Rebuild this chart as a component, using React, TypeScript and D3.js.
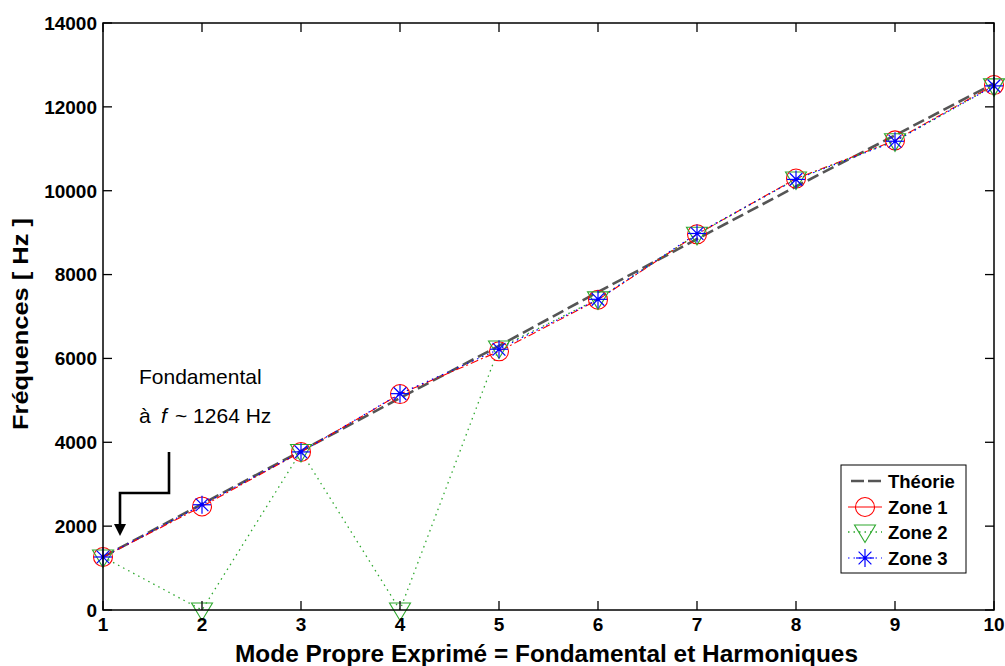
import React from "react";
import * as d3 from "d3";

const modes = [1, 2, 3, 4, 5, 6, 7, 8, 9, 10];
const theorie = [1264, 2528, 3792, 5056, 6300, 7584, 8848, 10100, 11320, 12560];
const zone1 = [1264, 2470, 3770, 5150, 6170, 7400, 8960, 10290, 11200, 12520];
const zone2 = [1264, 0, 3780, 0, 6250, 7420, 8960, 10280, 11190, 12500];
const zone3 = [1264, 2510, 3770, 5160, 6220, 7410, 8980, 10270, 11180, 12500];
const yTicks = [0, 2000, 4000, 6000, 8000, 10000, 12000, 14000];
const xTicks = [1, 2, 3, 4, 5, 6, 7, 8, 9, 10];
const legendLabels = ["Théorie", "Zone 1", "Zone 2", "Zone 3"];

const W = 1005, H = 666;
const L = 103, R = 994, T = 23, B = 610;
const FONT = "'Liberation Sans', Arial, Helvetica, sans-serif";

const x = d3.scaleLinear().domain([1, 10]).range([L, R]);
const y = d3.scaleLinear().domain([0, 14000]).range([B, T]);

function pts(vals: number[]) {
  return modes.map((m, i) => [x(m), y(vals[i])] as [number, number]);
}
const line = d3.line<[number, number]>();

const RED = "#ff0000";
const GREEN = "#2ea82e";
const BLUE = "#0000ff";
const GRAY = "#555555";

function Circle({ cx, cy }: { cx: number; cy: number }) {
  return <circle cx={cx} cy={cy} r={9.5} fill="none" stroke={RED} strokeWidth={1.1} />;
}
function Tri({ cx, cy }: { cx: number; cy: number }) {
  return (
    <polygon
      points={`${cx - 10.5},${cy - 7} ${cx + 10.5},${cy - 7} ${cx},${cy + 10.5}`}
      fill="none"
      stroke={GREEN}
      strokeWidth={1.1}
    />
  );
}
function Star({ cx, cy }: { cx: number; cy: number }) {
  const a = 9, d = 6.4;
  return (
    <g stroke={BLUE} strokeWidth={1.2}>
      <line x1={cx - a} y1={cy} x2={cx + a} y2={cy} />
      <line x1={cx} y1={cy - a} x2={cx} y2={cy + a} />
      <line x1={cx - d} y1={cy - d} x2={cx + d} y2={cy + d} />
      <line x1={cx - d} y1={cy + d} x2={cx + d} y2={cy - d} />
      <circle cx={cx} cy={cy} r={1.8} fill={BLUE} stroke="none" />
    </g>
  );
}

export default function App() {
  const p0 = pts(theorie), p1 = pts(zone1), p2 = pts(zone2), p3 = pts(zone3);
  const legY = [481, 507, 532, 558];
  const lx0 = 848, lx1 = 882, lm = 865;
  return (
    <svg width={W} height={H} style={{ position: "absolute", left: 0, top: 0, background: "#fff" }}>
      <rect x={0} y={0} width={W} height={H} fill="#fff" />
      {/* series lines */}
      <path d={line(p0) || ""} fill="none" stroke={GRAY} strokeWidth={2.6} strokeDasharray="12,5" />
      <path d={line(p1) || ""} fill="none" stroke={RED} strokeWidth={1.1} strokeDasharray="8,3,2,3" />
      <path d={line(p2) || ""} fill="none" stroke={GREEN} strokeWidth={1.3} strokeDasharray="1.5,4.2" />
      <path d={line(p3) || ""} fill="none" stroke={BLUE} strokeWidth={1.2} strokeDasharray="1.5,4" />
      {/* markers */}
      {p1.map(([cx, cy], i) => <Circle key={"c" + i} cx={cx} cy={cy} />)}
      {p2.map(([cx, cy], i) => <Tri key={"t" + i} cx={cx} cy={cy} />)}
      {p3.map(([cx, cy], i) => <Star key={"s" + i} cx={cx} cy={cy} />)}
      {/* frame */}
      <rect x={L} y={T} width={R - L} height={B - T} fill="none" stroke="#000" strokeWidth={1.5} />
      {xTicks.map((t) => (
        <g key={"xt" + t}>
          <line x1={x(t)} x2={x(t)} y1={B} y2={B - 9} stroke="#000" strokeWidth={1.3} />
          <line x1={x(t)} x2={x(t)} y1={T} y2={T + 9} stroke="#000" strokeWidth={1.3} />
          <text x={x(t)} y={631} textAnchor="middle" fontFamily={FONT} fontWeight="bold" fontSize={19} fill="#000">
            {t}
          </text>
        </g>
      ))}
      {yTicks.map((t) => (
        <g key={"yt" + t}>
          <line x1={L} x2={L + 9} y1={y(t)} y2={y(t)} stroke="#000" strokeWidth={1.3} />
          <line x1={R} x2={R - 9} y1={y(t)} y2={y(t)} stroke="#000" strokeWidth={1.3} />
          <text x={97} y={y(t)} dy="0.36em" textAnchor="end" fontFamily={FONT} fontWeight="bold" fontSize={19} fill="#000">
            {t}
          </text>
        </g>
      ))}
      {/* axis labels */}
      <text x={546.5} y={662} textAnchor="middle" fontFamily={FONT} fontWeight="bold" fontSize={24}
        textLength={623} lengthAdjust="spacingAndGlyphs" fill="#000">
        Mode Propre Exprimé = Fondamental et Harmoniques
      </text>
      <text transform="translate(28,324) rotate(-90)" textAnchor="middle" fontFamily={FONT} fontWeight="bold" fontSize={22}
        textLength={212} lengthAdjust="spacingAndGlyphs" fill="#000">
        Fréquences [ Hz ]
      </text>
      {/* annotation */}
      <text x={139} y={384} fontFamily={FONT} fontSize={21} fill="#000">Fondamental</text>
      <text y={423} fontFamily={FONT} fontSize={21} fill="#000">
        <tspan x={139}>à</tspan>
        <tspan x={161} fontStyle="italic">f</tspan>
        <tspan x={175}>~ 1264 Hz</tspan>
      </text>
      <path d="M169,452 V493 H120 V526" fill="none" stroke="#000" strokeWidth={2.6} />
      <polygon points="114,524 126,524 120,536" fill="#000" />
      {/* legend */}
      <rect x={841} y={465} width={125} height={108} fill="#fff" stroke="#000" strokeWidth={1} />
      <line x1={851} x2={882} y1={legY[0]} y2={legY[0]} stroke={GRAY} strokeWidth={2.6} strokeDasharray="13,4" />
      <line x1={lx0} x2={lx1} y1={legY[1]} y2={legY[1]} stroke={RED} strokeWidth={1.1} />
      <Circle cx={lm} cy={legY[1]} />
      <line x1={lx0} x2={lx1} y1={legY[2]} y2={legY[2]} stroke={GREEN} strokeWidth={1.3} strokeDasharray="1.5,4" />
      <Tri cx={lm} cy={legY[2]} />
      <line x1={lx0} x2={lx1} y1={legY[3]} y2={legY[3]} stroke={BLUE} strokeWidth={1.2} strokeDasharray="1.5,4" />
      <Star cx={lm} cy={legY[3]} />
      {legendLabels.map((s, i) => (
        <text key={s} x={888} y={legY[i]} dy="0.36em" fontFamily={FONT} fontWeight="bold" fontSize={18.5} fill="#000">
          {s}
        </text>
      ))}
    </svg>
  );
}
